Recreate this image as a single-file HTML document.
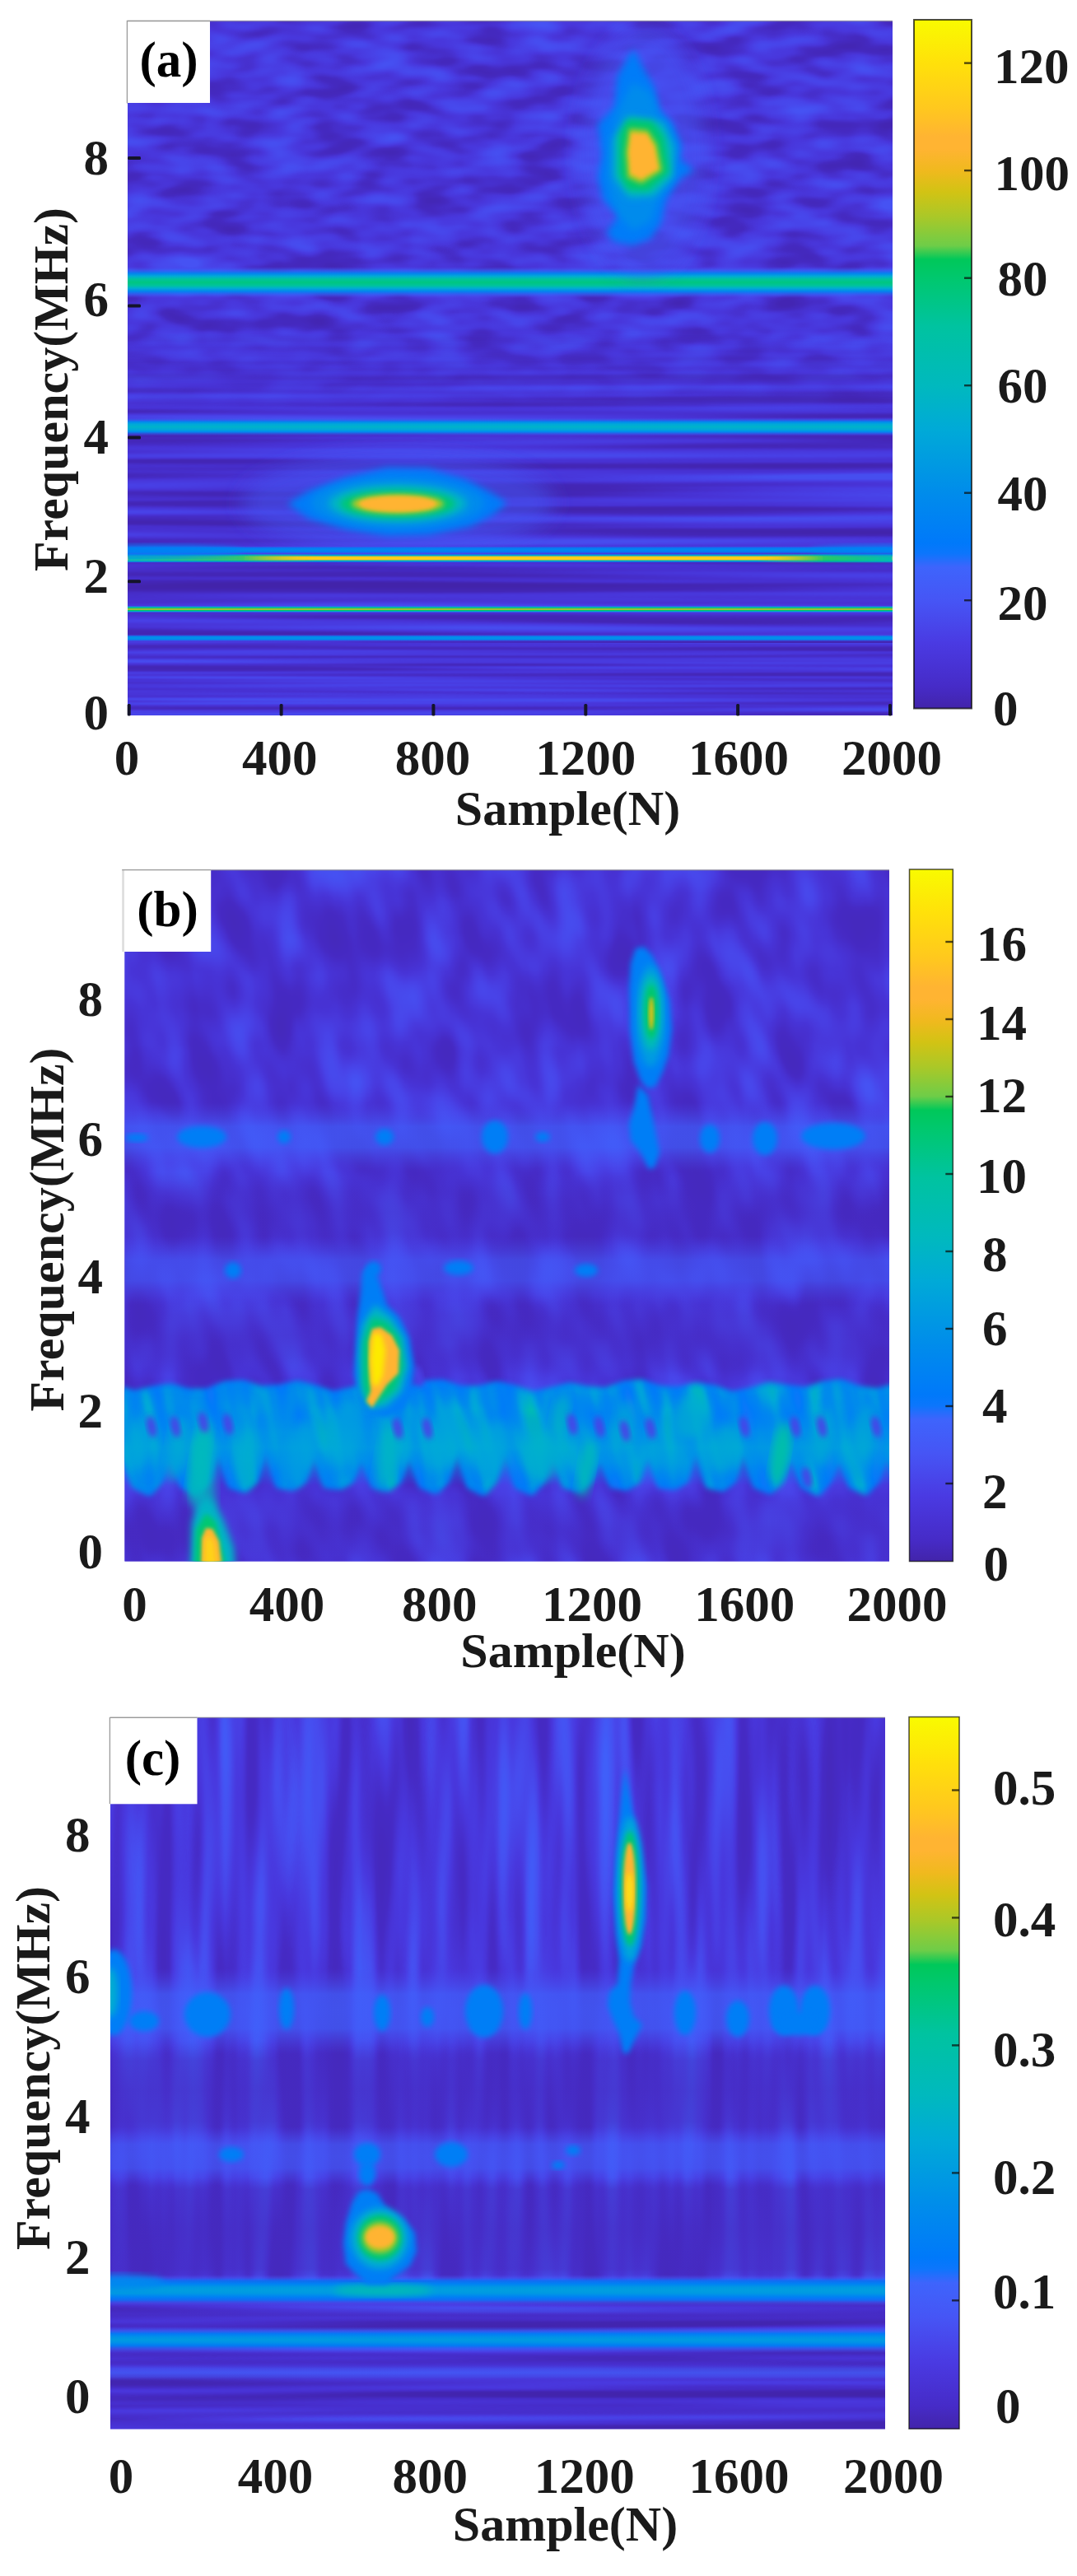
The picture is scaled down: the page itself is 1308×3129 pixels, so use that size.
<!DOCTYPE html>
<html lang="en">
<head>
<meta charset="utf-8">
<title>Time-frequency spectrograms (a)(b)(c)</title>
<style>
html,body{margin:0;padding:0;background:#fff;}
body{width:1308px;height:3129px;overflow:hidden;}
svg{display:block;}
text{font-family:"Liberation Serif","Times New Roman",serif;font-weight:bold;fill:#1a1a1a;}
</style>
</head>
<body>
<svg width="1308" height="3129" viewBox="0 0 1308 3129">
<defs>
<filter id="bl1" x="-20%" y="-20%" width="140%" height="140%"><feGaussianBlur stdDeviation="1"/></filter>
<filter id="bl2" x="-20%" y="-20%" width="140%" height="140%"><feGaussianBlur stdDeviation="2"/></filter>
<filter id="bl3" x="-20%" y="-20%" width="140%" height="140%"><feGaussianBlur stdDeviation="3"/></filter>
<filter id="bl4" x="-20%" y="-20%" width="140%" height="140%"><feGaussianBlur stdDeviation="4"/></filter>
<filter id="bl5" x="-20%" y="-20%" width="140%" height="140%"><feGaussianBlur stdDeviation="5"/></filter>
<filter id="bl6" x="-20%" y="-20%" width="140%" height="140%"><feGaussianBlur stdDeviation="6"/></filter>
<filter id="bl8" x="-20%" y="-20%" width="140%" height="140%"><feGaussianBlur stdDeviation="8"/></filter>
<filter id="bl10" x="-20%" y="-20%" width="140%" height="140%"><feGaussianBlur stdDeviation="10"/></filter>
<filter id="bl12" x="-20%" y="-20%" width="140%" height="140%"><feGaussianBlur stdDeviation="12"/></filter>
<clipPath id="clipA"><rect x="155.0" y="25.5" width="929.0" height="843.5"/></clipPath>
<filter id="nA1" x="0" y="0" width="100%" height="100%" color-interpolation-filters="sRGB"><feTurbulence type="fractalNoise" baseFrequency="0.016 0.042" numOctaves="2" seed="7"/><feColorMatrix type="matrix" values="1 0 0 0 0 1 0 0 0 0 1 0 0 0 0 0 0 0 0 1"/><feComponentTransfer><feFuncR type="table" tableValues="0.263 0.263 0.271 0.286 0.282 0.275 0.275"/><feFuncG type="table" tableValues="0.149 0.149 0.165 0.216 0.271 0.322 0.322"/><feFuncB type="table" tableValues="0.702 0.702 0.757 0.863 0.918 0.953 0.953"/></feComponentTransfer></filter>
<filter id="nA3" x="0" y="0" width="100%" height="100%" color-interpolation-filters="sRGB"><feTurbulence type="fractalNoise" baseFrequency="0.0012 0.13" numOctaves="2" seed="21"/><feColorMatrix type="matrix" values="1 0 0 0 0 1 0 0 0 0 1 0 0 0 0 0 0 0 0 1"/><feComponentTransfer><feFuncR type="table" tableValues="0.263 0.263 0.271 0.282 0.286 0.275 0.275"/><feFuncG type="table" tableValues="0.149 0.149 0.161 0.200 0.255 0.322 0.322"/><feFuncB type="table" tableValues="0.702 0.702 0.741 0.839 0.906 0.953 0.953"/></feComponentTransfer></filter>
<filter id="nA2" x="0" y="0" width="100%" height="100%" color-interpolation-filters="sRGB"><feTurbulence type="fractalNoise" baseFrequency="0.0012 0.075" numOctaves="2" seed="11"/><feColorMatrix type="matrix" values="1 0 0 0 0 1 0 0 0 0 1 0 0 0 0 0 0 0 0 1"/><feComponentTransfer><feFuncR type="table" tableValues="0.259 0.259 0.267 0.282 0.286 0.278 0.278"/><feFuncG type="table" tableValues="0.141 0.141 0.153 0.196 0.247 0.306 0.306"/><feFuncB type="table" tableValues="0.667 0.667 0.722 0.831 0.898 0.941 0.941"/></feComponentTransfer></filter>
<linearGradient id="mAg" gradientUnits="userSpaceOnUse" x1="0" y1="400" x2="0" y2="500"><stop offset="0" stop-color="#000"/><stop offset="1" stop-color="#fff"/></linearGradient>
<mask id="mA" maskUnits="userSpaceOnUse" x="155.0" y="390" width="929.0" height="479.0"><rect x="155.0" y="390" width="929.0" height="479.0" fill="url(#mAg)"/></mask>
<linearGradient id="g1" x1="0" y1="0" x2="0" y2="1"><stop offset="0.0" stop-color="#4652f3" stop-opacity="0"/><stop offset="0.1" stop-color="#3268fc" stop-opacity="0.55"/><stop offset="0.21" stop-color="#0086f0" stop-opacity="0.95"/><stop offset="0.31" stop-color="#00add1" stop-opacity="1"/><stop offset="0.4" stop-color="#00c39c" stop-opacity="1"/><stop offset="0.5" stop-color="#00c680" stop-opacity="1"/><stop offset="0.5" stop-color="#00c680" stop-opacity="1"/><stop offset="0.6" stop-color="#00c39c" stop-opacity="1"/><stop offset="0.69" stop-color="#00add1" stop-opacity="1"/><stop offset="0.79" stop-color="#0086f0" stop-opacity="0.95"/><stop offset="0.9" stop-color="#3268fc" stop-opacity="0.55"/><stop offset="1.0" stop-color="#4652f3" stop-opacity="0"/></linearGradient>
<linearGradient id="g2" x1="0" y1="0" x2="0" y2="1"><stop offset="0.0" stop-color="#4652f3" stop-opacity="0"/><stop offset="0.225" stop-color="#0089ee" stop-opacity="1"/><stop offset="0.35" stop-color="#00a8d8" stop-opacity="1"/><stop offset="0.5" stop-color="#00b2ca" stop-opacity="1"/><stop offset="0.5" stop-color="#00b2ca" stop-opacity="1"/><stop offset="0.65" stop-color="#00a8d8" stop-opacity="1"/><stop offset="0.775" stop-color="#0089ee" stop-opacity="1"/><stop offset="1.0" stop-color="#4652f3" stop-opacity="0"/></linearGradient>
<linearGradient id="g3" x1="0" y1="0" x2="0" y2="1"><stop offset="0.0" stop-color="#4652f3" stop-opacity="0"/><stop offset="0.25" stop-color="#007ef6" stop-opacity="0.9"/><stop offset="0.5" stop-color="#0089ee" stop-opacity="1"/><stop offset="0.5" stop-color="#0089ee" stop-opacity="1"/><stop offset="0.75" stop-color="#007ef6" stop-opacity="0.9"/><stop offset="1.0" stop-color="#4652f3" stop-opacity="0"/></linearGradient>
<linearGradient id="g4" x1="0" y1="0" x2="0" y2="1"><stop offset="0.0" stop-color="#4652f3" stop-opacity="0"/><stop offset="0.1" stop-color="#0089ee" stop-opacity="0.8"/><stop offset="0.225" stop-color="#00bdb3" stop-opacity="1"/><stop offset="0.35" stop-color="#ffbe28" stop-opacity="1"/><stop offset="0.5" stop-color="#ffda0f" stop-opacity="1"/><stop offset="0.5" stop-color="#ffda0f" stop-opacity="1"/><stop offset="0.65" stop-color="#ffbe28" stop-opacity="1"/><stop offset="0.775" stop-color="#00bdb3" stop-opacity="1"/><stop offset="0.9" stop-color="#0089ee" stop-opacity="0.8"/><stop offset="1.0" stop-color="#4652f3" stop-opacity="0"/></linearGradient>
<linearGradient id="fadeL" x1="0" y1="0" x2="1" y2="0"><stop offset="0" stop-color="#00b4c6" stop-opacity="1"/><stop offset="0.6" stop-color="#00c680" stop-opacity="0.8"/><stop offset="1" stop-color="#d2c314" stop-opacity="0"/></linearGradient>
<linearGradient id="fadeR" x1="0" y1="0" x2="1" y2="0"><stop offset="0" stop-color="#d2c314" stop-opacity="0"/><stop offset="0.5" stop-color="#00c872" stop-opacity="0.85"/><stop offset="1" stop-color="#00bdb3" stop-opacity="1"/></linearGradient>
<linearGradient id="g5" x1="0" y1="0" x2="0" y2="1"><stop offset="0.0" stop-color="#4652f3" stop-opacity="0"/><stop offset="0.2" stop-color="#00a8d8" stop-opacity="1"/><stop offset="0.35" stop-color="#00c85b" stop-opacity="1"/><stop offset="0.5" stop-color="#f9b62a" stop-opacity="1"/><stop offset="0.5" stop-color="#f9b62a" stop-opacity="1"/><stop offset="0.65" stop-color="#00c85b" stop-opacity="1"/><stop offset="0.8" stop-color="#00a8d8" stop-opacity="1"/><stop offset="1.0" stop-color="#4652f3" stop-opacity="0"/></linearGradient>
<linearGradient id="g6" x1="0" y1="0" x2="0" y2="1"><stop offset="0.0" stop-color="#4652f3" stop-opacity="0"/><stop offset="0.3" stop-color="#0089ee" stop-opacity="1"/><stop offset="0.5" stop-color="#0092e7" stop-opacity="1"/><stop offset="0.5" stop-color="#0092e7" stop-opacity="1"/><stop offset="0.7" stop-color="#0089ee" stop-opacity="1"/><stop offset="1.0" stop-color="#4652f3" stop-opacity="0"/></linearGradient>
<linearGradient id="cbA" x1="0" y1="0" x2="0" y2="1"><stop offset="0.0000" stop-color="#f9fb00"/><stop offset="0.0625" stop-color="#ffe10a"/><stop offset="0.1280" stop-color="#ffc81e"/><stop offset="0.1700" stop-color="#ffb432"/><stop offset="0.1875" stop-color="#ffb432"/><stop offset="0.2190" stop-color="#f0b91e"/><stop offset="0.2500" stop-color="#d2c314"/><stop offset="0.2860" stop-color="#aac828"/><stop offset="0.3280" stop-color="#6ecd48"/><stop offset="0.3480" stop-color="#00c85a"/><stop offset="0.3750" stop-color="#00c86e"/><stop offset="0.4450" stop-color="#00c3a0"/><stop offset="0.5310" stop-color="#00b9be"/><stop offset="0.5940" stop-color="#00aad7"/><stop offset="0.6875" stop-color="#008ceb"/><stop offset="0.7600" stop-color="#0079fa"/><stop offset="0.7750" stop-color="#0c76fc"/><stop offset="0.7950" stop-color="#3e64fc"/><stop offset="0.8440" stop-color="#4655f5"/><stop offset="0.9060" stop-color="#4a3ae2"/><stop offset="0.9690" stop-color="#462bc7"/><stop offset="1.0000" stop-color="#4224aa"/></linearGradient>
<clipPath id="clipB"><rect x="151.4" y="1056.7" width="928.6" height="839.9"/></clipPath>
<filter id="nB1" x="0" y="0" width="100%" height="100%" color-interpolation-filters="sRGB"><feTurbulence type="fractalNoise" baseFrequency="0.021 0.011" numOctaves="2" seed="5"/><feColorMatrix type="matrix" values="1 0 0 0 0 1 0 0 0 0 1 0 0 0 0 0 0 0 0 1"/><feComponentTransfer><feFuncR type="table" tableValues="0.271 0.271 0.275 0.282 0.286 0.275 0.275"/><feFuncG type="table" tableValues="0.161 0.161 0.165 0.204 0.263 0.322 0.322"/><feFuncB type="table" tableValues="0.741 0.741 0.769 0.843 0.910 0.953 0.953"/></feComponentTransfer></filter>
<linearGradient id="g7" x1="0" y1="0" x2="0" y2="1"><stop offset="0.0" stop-color="#4529bd" stop-opacity="0"/><stop offset="0.25" stop-color="#4529bd" stop-opacity="0.3"/><stop offset="0.5" stop-color="#4529bd" stop-opacity="0.4"/><stop offset="0.5" stop-color="#4529bd" stop-opacity="0.4"/><stop offset="0.75" stop-color="#4529bd" stop-opacity="0.3"/><stop offset="1.0" stop-color="#4529bd" stop-opacity="0"/></linearGradient>
<linearGradient id="g8" x1="0" y1="0" x2="0" y2="1"><stop offset="0.0" stop-color="#4529bd" stop-opacity="0"/><stop offset="0.25" stop-color="#4529bd" stop-opacity="0.3"/><stop offset="0.5" stop-color="#4529bd" stop-opacity="0.4"/><stop offset="0.5" stop-color="#4529bd" stop-opacity="0.4"/><stop offset="0.75" stop-color="#4529bd" stop-opacity="0.3"/><stop offset="1.0" stop-color="#4529bd" stop-opacity="0"/></linearGradient>
<linearGradient id="g9" x1="0" y1="0" x2="0" y2="1"><stop offset="0.0" stop-color="#4529bd" stop-opacity="0"/><stop offset="0.25" stop-color="#4529bd" stop-opacity="0.22"/><stop offset="0.5" stop-color="#4529bd" stop-opacity="0.3"/><stop offset="0.5" stop-color="#4529bd" stop-opacity="0.3"/><stop offset="0.75" stop-color="#4529bd" stop-opacity="0.22"/><stop offset="1.0" stop-color="#4529bd" stop-opacity="0"/></linearGradient>
<linearGradient id="g10" x1="0" y1="0" x2="0" y2="1"><stop offset="0.0" stop-color="#4845ea" stop-opacity="0"/><stop offset="0.15" stop-color="#4652f3" stop-opacity="0.3"/><stop offset="0.35" stop-color="#405ffa" stop-opacity="0.68"/><stop offset="0.5" stop-color="#405ffa" stop-opacity="0.7"/><stop offset="0.5" stop-color="#405ffa" stop-opacity="0.7"/><stop offset="0.65" stop-color="#405ffa" stop-opacity="0.68"/><stop offset="0.85" stop-color="#4652f3" stop-opacity="0.3"/><stop offset="1.0" stop-color="#4845ea" stop-opacity="0"/></linearGradient>
<linearGradient id="g11" x1="0" y1="0" x2="0" y2="1"><stop offset="0.0" stop-color="#4845ea" stop-opacity="0"/><stop offset="0.15" stop-color="#4652f3" stop-opacity="0.25"/><stop offset="0.35" stop-color="#425cf8" stop-opacity="0.58"/><stop offset="0.5" stop-color="#425cf8" stop-opacity="0.6"/><stop offset="0.5" stop-color="#425cf8" stop-opacity="0.6"/><stop offset="0.65" stop-color="#425cf8" stop-opacity="0.58"/><stop offset="0.85" stop-color="#4652f3" stop-opacity="0.25"/><stop offset="1.0" stop-color="#4845ea" stop-opacity="0"/></linearGradient>
<filter id="nB2" x="0" y="0" width="100%" height="100%" color-interpolation-filters="sRGB"><feTurbulence type="fractalNoise" baseFrequency="0.034 0.01" numOctaves="2" seed="17"/><feColorMatrix type="matrix" values="1 0 0 0 0 1 0 0 0 0 1 0 0 0 0 0 0 0 0 1"/><feComponentTransfer><feFuncR type="table" tableValues="0.094 0.094 0.000 0.000 0.000 0.000 0.000"/><feFuncG type="table" tableValues="0.447 0.447 0.486 0.545 0.659 0.741 0.741"/><feFuncB type="table" tableValues="0.988 0.988 0.973 0.925 0.847 0.702 0.702"/></feComponentTransfer></filter>
<mask id="mB" maskUnits="userSpaceOnUse" x="91.4" y="1640" width="1048.6" height="220"><path d="M141.4 1684.0 L163.4 1690.7 L185.4 1685.5 L207.4 1682.3 L229.4 1688.5 L251.4 1688.4 L273.4 1679.2 L295.4 1678.3 L317.4 1685.3 L339.4 1683.7 L361.4 1678.4 L383.4 1684.2 L405.4 1691.4 L427.4 1686.5 L449.4 1681.7 L471.4 1687.0 L493.4 1687.9 L515.4 1679.0 L537.4 1677.4 L559.4 1685.1 L581.4 1685.0 L603.4 1679.6 L625.4 1684.3 L647.4 1691.8 L669.4 1687.1 L691.4 1681.0 L713.4 1685.4 L735.4 1687.3 L757.4 1679.0 L779.4 1676.9 L801.4 1685.1 L823.4 1686.5 L845.4 1680.8 L867.4 1684.3 L889.4 1691.7 L911.4 1687.5 L933.4 1680.2 L955.4 1683.7 L977.4 1686.7 L999.4 1679.4 L1021.4 1676.8 L1043.4 1685.2 L1065.4 1688.0 L1087.4 1682.1 L1109.4 1684.0 L1110.0 1812.0 L1090.0 1806.0 L1077.0 1768.0 L1066.0 1800.0 L1052.0 1815.1 L1032.0 1806.0 L1019.0 1772.8 L1008.0 1800.0 L994.0 1815.9 L974.0 1806.0 L961.0 1770.6 L950.0 1800.0 L936.0 1813.7 L916.0 1806.0 L903.0 1764.6 L892.0 1800.0 L878.0 1810.2 L858.0 1806.0 L845.0 1763.6 L834.0 1800.0 L820.0 1808.1 L800.0 1806.0 L787.0 1769.1 L776.0 1800.0 L762.0 1808.9 L742.0 1806.0 L729.0 1773.0 L718.0 1800.0 L704.0 1812.1 L684.0 1806.0 L671.0 1769.6 L660.0 1800.0 L646.0 1815.2 L626.0 1806.0 L613.0 1763.9 L602.0 1800.0 L588.0 1815.9 L568.0 1806.0 L555.0 1764.2 L544.0 1800.0 L530.0 1813.6 L510.0 1806.0 L497.0 1770.1 L486.0 1800.0 L472.0 1810.2 L452.0 1806.0 L439.0 1772.9 L428.0 1800.0 L414.0 1808.1 L394.0 1806.0 L381.0 1768.5 L370.0 1800.0 L356.0 1809.0 L336.0 1806.0 L323.0 1763.4 L312.0 1800.0 L298.0 1812.1 L278.0 1806.0 L265.0 1765.0 L254.0 1800.0 L240.0 1815.2 L220.0 1806.0 L207.0 1771.0 L196.0 1800.0 L182.0 1815.9 L162.0 1806.0 L149.0 1772.6 L138.0 1800.0 L124.0 1813.6 L104.0 1806.0 L91.0 1767.5 L80.0 1800.0Z" fill="#fff" filter="url(#bl4)"/></mask>
<linearGradient id="g12" x1="0" y1="0" x2="0" y2="1"><stop offset="0.0" stop-color="#007cf8" stop-opacity="0"/><stop offset="0.125" stop-color="#0086f0" stop-opacity="0.25"/><stop offset="0.3" stop-color="#009be1" stop-opacity="0.45"/><stop offset="0.5" stop-color="#00a8d8" stop-opacity="0.55"/><stop offset="0.5" stop-color="#00a8d8" stop-opacity="0.55"/><stop offset="0.7" stop-color="#009be1" stop-opacity="0.45"/><stop offset="0.875" stop-color="#0086f0" stop-opacity="0.25"/><stop offset="1.0" stop-color="#007cf8" stop-opacity="0"/></linearGradient>
<linearGradient id="cbB" x1="0" y1="0" x2="0" y2="1"><stop offset="0.0000" stop-color="#f9fb00"/><stop offset="0.0625" stop-color="#ffe10a"/><stop offset="0.1280" stop-color="#ffc81e"/><stop offset="0.1700" stop-color="#ffb432"/><stop offset="0.1875" stop-color="#ffb432"/><stop offset="0.2190" stop-color="#f0b91e"/><stop offset="0.2500" stop-color="#d2c314"/><stop offset="0.2860" stop-color="#aac828"/><stop offset="0.3280" stop-color="#6ecd48"/><stop offset="0.3480" stop-color="#00c85a"/><stop offset="0.3750" stop-color="#00c86e"/><stop offset="0.4450" stop-color="#00c3a0"/><stop offset="0.5310" stop-color="#00b9be"/><stop offset="0.5940" stop-color="#00aad7"/><stop offset="0.6875" stop-color="#008ceb"/><stop offset="0.7600" stop-color="#0079fa"/><stop offset="0.7750" stop-color="#0c76fc"/><stop offset="0.7950" stop-color="#3e64fc"/><stop offset="0.8440" stop-color="#4655f5"/><stop offset="0.9060" stop-color="#4a3ae2"/><stop offset="0.9690" stop-color="#462bc7"/><stop offset="1.0000" stop-color="#4224aa"/></linearGradient>
<clipPath id="clipC"><rect x="134.0" y="2086.3" width="941.0" height="864.2"/></clipPath>
<filter id="nC1" x="0" y="0" width="100%" height="100%" color-interpolation-filters="sRGB"><feTurbulence type="fractalNoise" baseFrequency="0.033 0.003" numOctaves="2" seed="9"/><feColorMatrix type="matrix" values="1 0 0 0 0 1 0 0 0 0 1 0 0 0 0 0 0 0 0 1"/><feComponentTransfer><feFuncR type="table" tableValues="0.271 0.271 0.275 0.286 0.278 0.251 0.251"/><feFuncG type="table" tableValues="0.161 0.161 0.169 0.220 0.306 0.373 0.373"/><feFuncB type="table" tableValues="0.741 0.741 0.776 0.871 0.941 0.980 0.980"/></feComponentTransfer></filter>
<filter id="nC2" x="0" y="0" width="100%" height="100%" color-interpolation-filters="sRGB"><feTurbulence type="fractalNoise" baseFrequency="0.0012 0.07" numOctaves="2" seed="4"/><feColorMatrix type="matrix" values="1 0 0 0 0 1 0 0 0 0 1 0 0 0 0 0 0 0 0 1"/><feComponentTransfer><feFuncR type="table" tableValues="0.259 0.259 0.263 0.278 0.290 0.278 0.278"/><feFuncG type="table" tableValues="0.141 0.141 0.149 0.180 0.224 0.298 0.298"/><feFuncB type="table" tableValues="0.667 0.667 0.702 0.800 0.878 0.937 0.937"/></feComponentTransfer></filter>
<linearGradient id="g13" x1="0" y1="0" x2="0" y2="1"><stop offset="0.0" stop-color="#4529bd" stop-opacity="0"/><stop offset="0.2" stop-color="#4529bd" stop-opacity="0.5"/><stop offset="0.5" stop-color="#4529bd" stop-opacity="0.6"/><stop offset="0.5" stop-color="#4529bd" stop-opacity="0.6"/><stop offset="0.8" stop-color="#4529bd" stop-opacity="0.5"/><stop offset="1.0" stop-color="#4529bd" stop-opacity="0"/></linearGradient>
<linearGradient id="g14" x1="0" y1="0" x2="0" y2="1"><stop offset="0.0" stop-color="#4529bd" stop-opacity="0"/><stop offset="0.125" stop-color="#4529bd" stop-opacity="0.55"/><stop offset="0.5" stop-color="#4529bd" stop-opacity="0.65"/><stop offset="0.5" stop-color="#4529bd" stop-opacity="0.65"/><stop offset="0.875" stop-color="#4529bd" stop-opacity="0.55"/><stop offset="1.0" stop-color="#4529bd" stop-opacity="0"/></linearGradient>
<linearGradient id="g15" x1="0" y1="0" x2="0" y2="1"><stop offset="0.0" stop-color="#4845ea" stop-opacity="0"/><stop offset="0.125" stop-color="#4652f3" stop-opacity="0.3"/><stop offset="0.3" stop-color="#405ffa" stop-opacity="0.72"/><stop offset="0.5" stop-color="#405ffa" stop-opacity="0.75"/><stop offset="0.5" stop-color="#405ffa" stop-opacity="0.75"/><stop offset="0.7" stop-color="#405ffa" stop-opacity="0.72"/><stop offset="0.875" stop-color="#4652f3" stop-opacity="0.3"/><stop offset="1.0" stop-color="#4845ea" stop-opacity="0"/></linearGradient>
<linearGradient id="g16" x1="0" y1="0" x2="0" y2="1"><stop offset="0.0" stop-color="#4845ea" stop-opacity="0"/><stop offset="0.125" stop-color="#4652f3" stop-opacity="0.3"/><stop offset="0.3" stop-color="#425cf8" stop-opacity="0.66"/><stop offset="0.5" stop-color="#425cf8" stop-opacity="0.7"/><stop offset="0.5" stop-color="#425cf8" stop-opacity="0.7"/><stop offset="0.7" stop-color="#425cf8" stop-opacity="0.66"/><stop offset="0.875" stop-color="#4652f3" stop-opacity="0.3"/><stop offset="1.0" stop-color="#4845ea" stop-opacity="0"/></linearGradient>
<linearGradient id="g17" x1="0" y1="0" x2="0" y2="1"><stop offset="0.0" stop-color="#4652f3" stop-opacity="0"/><stop offset="0.09" stop-color="#405ffa" stop-opacity="0.4"/><stop offset="0.19" stop-color="#0877fb" stop-opacity="0.85"/><stop offset="0.29" stop-color="#0081f4" stop-opacity="1"/><stop offset="0.4" stop-color="#0098e3" stop-opacity="1"/><stop offset="0.5" stop-color="#009edf" stop-opacity="1"/><stop offset="0.5" stop-color="#009edf" stop-opacity="1"/><stop offset="0.6" stop-color="#0098e3" stop-opacity="1"/><stop offset="0.71" stop-color="#0081f4" stop-opacity="1"/><stop offset="0.81" stop-color="#0877fb" stop-opacity="0.85"/><stop offset="0.91" stop-color="#405ffa" stop-opacity="0.4"/><stop offset="1.0" stop-color="#4652f3" stop-opacity="0"/></linearGradient>
<linearGradient id="g18" x1="0" y1="0" x2="0" y2="1"><stop offset="0.0" stop-color="#4652f3" stop-opacity="0"/><stop offset="0.15" stop-color="#3268fc" stop-opacity="0.6"/><stop offset="0.275" stop-color="#007ef6" stop-opacity="0.95"/><stop offset="0.4" stop-color="#0092e7" stop-opacity="1"/><stop offset="0.5" stop-color="#009be1" stop-opacity="1"/><stop offset="0.5" stop-color="#009be1" stop-opacity="1"/><stop offset="0.6" stop-color="#0092e7" stop-opacity="1"/><stop offset="0.725" stop-color="#007ef6" stop-opacity="0.95"/><stop offset="0.85" stop-color="#3268fc" stop-opacity="0.6"/><stop offset="1.0" stop-color="#4652f3" stop-opacity="0"/></linearGradient>
<linearGradient id="g19" x1="0" y1="0" x2="0" y2="1"><stop offset="0.0" stop-color="#4845ea" stop-opacity="0"/><stop offset="0.25" stop-color="#4556f6" stop-opacity="0.6"/><stop offset="0.5" stop-color="#425cf8" stop-opacity="0.8"/><stop offset="0.5" stop-color="#425cf8" stop-opacity="0.8"/><stop offset="0.75" stop-color="#4556f6" stop-opacity="0.6"/><stop offset="1.0" stop-color="#4845ea" stop-opacity="0"/></linearGradient>
<linearGradient id="g20" x1="0" y1="0" x2="0" y2="1"><stop offset="0.0" stop-color="#4529bd" stop-opacity="0"/><stop offset="0.5" stop-color="#4529bd" stop-opacity="0.5"/><stop offset="0.5" stop-color="#4529bd" stop-opacity="0.5"/><stop offset="1.0" stop-color="#4529bd" stop-opacity="0"/></linearGradient>
<linearGradient id="cbC" x1="0" y1="0" x2="0" y2="1"><stop offset="0.0000" stop-color="#f9fb00"/><stop offset="0.0625" stop-color="#ffe10a"/><stop offset="0.1280" stop-color="#ffc81e"/><stop offset="0.1700" stop-color="#ffb432"/><stop offset="0.1875" stop-color="#ffb432"/><stop offset="0.2190" stop-color="#f0b91e"/><stop offset="0.2500" stop-color="#d2c314"/><stop offset="0.2860" stop-color="#aac828"/><stop offset="0.3280" stop-color="#6ecd48"/><stop offset="0.3480" stop-color="#00c85a"/><stop offset="0.3750" stop-color="#00c86e"/><stop offset="0.4450" stop-color="#00c3a0"/><stop offset="0.5310" stop-color="#00b9be"/><stop offset="0.5940" stop-color="#00aad7"/><stop offset="0.6875" stop-color="#008ceb"/><stop offset="0.7600" stop-color="#0079fa"/><stop offset="0.7750" stop-color="#0c76fc"/><stop offset="0.7950" stop-color="#3e64fc"/><stop offset="0.8440" stop-color="#4655f5"/><stop offset="0.9060" stop-color="#4a3ae2"/><stop offset="0.9690" stop-color="#462bc7"/><stop offset="1.0000" stop-color="#4224aa"/></linearGradient>
</defs>
<rect width="1308" height="3129" fill="#fff"/>
<g clip-path="url(#clipA)">
<rect x="155.0" y="25.5" width="929.0" height="843.5" fill="#4937dc"/>
<rect x="155.0" y="25.5" width="929.0" height="474.5" filter="url(#nA1)"/>
<g mask="url(#mA)"><rect x="155.0" y="390" width="929.0" height="479.0" filter="url(#nA2)"/></g>
<rect x="155.0" y="781" width="929.0" height="88.0" filter="url(#nA3)"/>
<rect x="155.0" y="324.0" width="929.0" height="38.0" fill="url(#g1)"/>
<rect x="155.0" y="507.5" width="929.0" height="22.0" fill="url(#g2)"/>
<ellipse cx="781.0" cy="185.0" rx="75.0" ry="150.0" fill="#4459f7" fill-opacity="0.55" filter="url(#bl12)"/>
<ellipse cx="483.0" cy="611.0" rx="190.0" ry="60.0" fill="#4459f7" fill-opacity="0.5" filter="url(#bl12)"/>
<path d="M769.8 59.7 L782.9 85.7 L794.0 104.0 L801.4 134.0 L816.0 149.0 L827.4 175.0 L825.6 193.4 L843.0 206.4 L825.6 217.6 L808.9 243.6 L803.0 271.0 L790.0 290.0 L768.0 298.0 L745.7 293.7 L736.4 282.6 L751.0 262.0 L732.7 243.6 L726.0 215.7 L730.9 187.9 L726.0 150.7 L745.7 130.3 L749.4 93.0 L764.0 67.0Z" fill="#007cf8" filter="url(#bl4)"/>
<path d="M768.0 100.0 L790.0 112.0 L800.0 140.0 L812.0 152.0 L822.0 178.0 L819.0 214.0 L800.0 240.0 L790.0 270.0 L768.0 280.0 L752.0 262.0 L742.0 238.0 L738.0 215.0 L741.0 170.0 L748.0 140.0 L758.0 120.0Z" fill="#008bec" filter="url(#bl5)"/>
<path d="M764.0 141.0 L805.0 149.0 L818.0 178.6 L816.0 215.7 L794.0 238.0 L764.0 240.0 L745.7 215.7 L745.7 169.0Z" fill="#00b7c2" filter="url(#bl5)"/>
<path d="M762.0 145.0 L792.0 147.0 L806.0 166.0 L813.0 209.0 L787.0 232.0 L763.0 231.0 L752.0 212.0 L752.0 163.0Z" fill="#00c86a" filter="url(#bl4)"/>
<path d="M764.0 156.0 L786.6 158.0 L797.7 175.0 L804.0 207.3 L779.0 223.0 L762.4 215.7 L760.0 185.0Z" fill="#b1c725" filter="url(#bl3)"/>
<path d="M767.0 162.0 L785.0 163.0 L794.0 178.0 L799.0 205.0 L779.0 217.0 L766.0 211.0 L764.0 185.0Z" fill="#ffb432" filter="url(#bl2)"/>
<path d="M349.0 612.0 L375.0 596.0 L420.0 580.0 L470.0 568.0 L520.0 569.0 L565.0 582.0 L596.0 598.0 L616.0 611.0 L598.0 626.0 L570.0 640.0 L520.0 650.0 L470.0 651.0 L420.0 643.0 L375.0 630.0Z" fill="#007cf8" filter="url(#bl4)"/>
<ellipse cx="483.0" cy="611.0" rx="105.0" ry="30.0" fill="#008bec" filter="url(#bl5)"/>
<ellipse cx="483.0" cy="611.5" rx="84.0" ry="23.0" fill="#00b4c6" filter="url(#bl5)"/>
<ellipse cx="483.0" cy="612.0" rx="70.0" ry="17.0" fill="#00c872" filter="url(#bl4)"/>
<ellipse cx="483.0" cy="612.0" rx="56.0" ry="12.0" fill="#b1c725" filter="url(#bl3)"/>
<ellipse cx="483.0" cy="612.0" rx="47.0" ry="9.5" fill="#ffb432" filter="url(#bl2)"/>
<rect x="155.0" y="663.0" width="929.0" height="10.0" fill="url(#g3)"/>
<rect x="155.0" y="672.5" width="929.0" height="11.0" fill="url(#g4)"/>
<rect x="155.0" y="674.5" width="230" height="7" fill="url(#fadeL)" filter="url(#bl1)"/>
<rect x="920" y="674.5" width="164.0" height="8" fill="url(#fadeR)" filter="url(#bl1)"/>
<ellipse cx="185.0" cy="669.0" rx="110.0" ry="7.0" fill="#0081f4" fill-opacity="0.9" filter="url(#bl3)"/>
<ellipse cx="1074.0" cy="668.0" rx="90.0" ry="6.0" fill="#0081f4" fill-opacity="0.8" filter="url(#bl3)"/>
<rect x="155.0" y="735.5" width="929.0" height="9.0" fill="url(#g5)"/>
<rect x="155.0" y="770.5" width="929.0" height="9.0" fill="url(#g6)"/>
</g>
<rect x="155.0" y="24.8" width="929.0" height="1.5" fill="#8a8a8a" fill-opacity="0.6"/>
<rect x="155.0" y="25.5" width="100" height="99.5" fill="#fff"/>
<path d="M154.4 125.5V25.5H255.0" fill="none" stroke="#9a9a9a" stroke-width="1.3"/>
<text x="205.0" y="93.0" font-size="61" text-anchor="middle" style="fill:#000">(a)</text>
<rect x="155.0" y="190.0" width="16" height="4" rx="1.5" fill="#14142a"/>
<rect x="155.0" y="369.5" width="16" height="4" rx="1.5" fill="#14142a"/>
<rect x="155.0" y="529.6" width="16" height="4" rx="1.5" fill="#14142a"/>
<rect x="155.0" y="704.3" width="16" height="4" rx="1.5" fill="#14142a"/>
<rect x="154.7" y="855.0" width="4" height="14.5" rx="1.5" fill="#14142a"/>
<rect x="339.6" y="855.0" width="4" height="14.5" rx="1.5" fill="#14142a"/>
<rect x="524.4" y="855.0" width="4" height="14.5" rx="1.5" fill="#14142a"/>
<rect x="709.3" y="855.0" width="4" height="14.5" rx="1.5" fill="#14142a"/>
<rect x="894.1" y="855.0" width="4" height="14.5" rx="1.5" fill="#14142a"/>
<rect x="1079.0" y="855.0" width="4" height="14.5" rx="1.5" fill="#14142a"/>
<text x="132.0" y="212.2" font-size="61" text-anchor="end" >8</text>
<text x="132.0" y="383.8" font-size="61" text-anchor="end" >6</text>
<text x="132.0" y="550.9" font-size="61" text-anchor="end" >4</text>
<text x="132.0" y="720.3" font-size="61" text-anchor="end" >2</text>
<text x="132.0" y="886.0" font-size="61" text-anchor="end" >0</text>
<text x="153.9" y="941.1" font-size="61" text-anchor="middle" >0</text>
<text x="339.7" y="941.1" font-size="61" text-anchor="middle" >400</text>
<text x="525.5" y="941.1" font-size="61" text-anchor="middle" >800</text>
<text x="711.3" y="941.1" font-size="61" text-anchor="middle" >1200</text>
<text x="897.1" y="941.1" font-size="61" text-anchor="middle" >1600</text>
<text x="1082.9" y="941.1" font-size="61" text-anchor="middle" >2000</text>
<text x="689.5" y="1001.5" font-size="60" text-anchor="middle" >Sample(N)</text>
<text transform="translate(82.0 473.0) rotate(-90)" font-size="60" text-anchor="middle">Frequency(MHz)</text>
<rect x="1110" y="24" width="70.0" height="836.5" fill="url(#cbA)" stroke="#0c0c08" stroke-opacity="0.72" stroke-width="2"/>
<rect x="1171.0" y="75.4" width="9" height="2.4" fill="#0c0c08" fill-opacity="0.72"/>
<rect x="1171.0" y="205.9" width="9" height="2.4" fill="#0c0c08" fill-opacity="0.72"/>
<rect x="1171.0" y="336.5" width="9" height="2.4" fill="#0c0c08" fill-opacity="0.72"/>
<rect x="1171.0" y="467.0" width="9" height="2.4" fill="#0c0c08" fill-opacity="0.72"/>
<rect x="1171.0" y="597.5" width="9" height="2.4" fill="#0c0c08" fill-opacity="0.72"/>
<rect x="1171.0" y="728.0" width="9" height="2.4" fill="#0c0c08" fill-opacity="0.72"/>
<text x="1207.0" y="101.2" font-size="61" text-anchor="start" >120</text>
<text x="1207.5" y="230.8" font-size="61" text-anchor="start" >100</text>
<text x="1211.5" y="359.2" font-size="61" text-anchor="start" >80</text>
<text x="1211.5" y="488.6" font-size="61" text-anchor="start" >60</text>
<text x="1211.5" y="620.1" font-size="61" text-anchor="start" >40</text>
<text x="1211.5" y="752.8" font-size="61" text-anchor="start" >20</text>
<text x="1206.0" y="880.6" font-size="61" text-anchor="start" >0</text>
<g clip-path="url(#clipB)">
<rect x="151.4" y="1056.7" width="928.6" height="839.9" fill="#4834d8"/>
<g transform="translate(0 1056.7) skewX(9) translate(0 -1056.7)"><rect x="-148.6" y="1056.7" width="1278.6" height="839.9" filter="url(#nB1)"/></g>
<rect x="151.4" y="1423.0" width="928.6" height="100.0" fill="url(#g7)"/>
<rect x="151.4" y="1574.0" width="928.6" height="96.0" fill="url(#g8)"/>
<rect x="151.4" y="1815.0" width="928.6" height="90.0" fill="url(#g9)"/>
<rect x="151.4" y="1339.0" width="928.6" height="84.0" fill="url(#g10)"/>
<rect x="151.4" y="1501.0" width="928.6" height="84.0" fill="url(#g11)"/>
<ellipse cx="245.0" cy="1381.0" rx="30.0" ry="13.0" fill="#007ef6" filter="url(#bl3)"/>
<ellipse cx="345.0" cy="1381.0" rx="8.0" ry="8.0" fill="#007ef6" filter="url(#bl3)"/>
<ellipse cx="467.0" cy="1381.0" rx="11.0" ry="10.0" fill="#007ef6" filter="url(#bl3)"/>
<ellipse cx="601.0" cy="1381.0" rx="16.0" ry="20.0" fill="#007ef6" filter="url(#bl3)"/>
<ellipse cx="659.0" cy="1381.0" rx="9.0" ry="6.0" fill="#007ef6" filter="url(#bl3)"/>
<ellipse cx="862.0" cy="1383.0" rx="12.0" ry="17.0" fill="#007ef6" filter="url(#bl3)"/>
<ellipse cx="929.0" cy="1383.0" rx="15.0" ry="20.0" fill="#007ef6" filter="url(#bl3)"/>
<ellipse cx="1012.0" cy="1380.0" rx="39.0" ry="16.0" fill="#007ef6" filter="url(#bl3)"/>
<ellipse cx="166.0" cy="1382.0" rx="14.0" ry="5.0" fill="#007ef6" filter="url(#bl3)"/>
<ellipse cx="283.0" cy="1543.0" rx="10.0" ry="10.0" fill="#007ef6" filter="url(#bl3)"/>
<ellipse cx="557.0" cy="1540.0" rx="18.0" ry="9.0" fill="#007ef6" filter="url(#bl3)"/>
<ellipse cx="712.0" cy="1543.0" rx="14.0" ry="8.0" fill="#007ef6" filter="url(#bl3)"/>
<ellipse cx="454.0" cy="1541.0" rx="9.0" ry="9.0" fill="#007ef6" filter="url(#bl3)"/>
<path d="M766.0 1170.0 L772.0 1152.0 L782.0 1150.0 L792.0 1160.0 L803.0 1185.0 L813.0 1215.0 L816.0 1250.0 L812.0 1282.0 L805.0 1302.0 L796.0 1320.0 L786.0 1322.0 L778.0 1312.0 L770.0 1290.0 L765.0 1250.0 L764.0 1200.0Z" fill="#007ef6" filter="url(#bl3)"/>
<path d="M775.0 1318.0 L787.0 1330.0 L795.0 1370.0 L801.0 1400.0 L795.0 1418.0 L788.0 1420.0 L778.0 1400.0 L766.0 1385.0 L764.0 1365.0 L770.0 1345.0Z" fill="#007ef6" filter="url(#bl3)"/>
<ellipse cx="790.0" cy="1234.0" rx="17.0" ry="62.0" fill="#009be1" filter="url(#bl4)"/>
<ellipse cx="790.5" cy="1230.0" rx="12.5" ry="46.0" fill="#00bdb3" filter="url(#bl4)"/>
<ellipse cx="791.0" cy="1229.0" rx="8.0" ry="33.0" fill="#00c86a" filter="url(#bl3)"/>
<ellipse cx="791.0" cy="1231.0" rx="3.2" ry="20.0" fill="#dcc017" filter="url(#bl2)"/>
<path d="M141.4 1684.0 L163.4 1690.7 L185.4 1685.5 L207.4 1682.3 L229.4 1688.5 L251.4 1688.4 L273.4 1679.2 L295.4 1678.3 L317.4 1685.3 L339.4 1683.7 L361.4 1678.4 L383.4 1684.2 L405.4 1691.4 L427.4 1686.5 L449.4 1681.7 L471.4 1687.0 L493.4 1687.9 L515.4 1679.0 L537.4 1677.4 L559.4 1685.1 L581.4 1685.0 L603.4 1679.6 L625.4 1684.3 L647.4 1691.8 L669.4 1687.1 L691.4 1681.0 L713.4 1685.4 L735.4 1687.3 L757.4 1679.0 L779.4 1676.9 L801.4 1685.1 L823.4 1686.5 L845.4 1680.8 L867.4 1684.3 L889.4 1691.7 L911.4 1687.5 L933.4 1680.2 L955.4 1683.7 L977.4 1686.7 L999.4 1679.4 L1021.4 1676.8 L1043.4 1685.2 L1065.4 1688.0 L1087.4 1682.1 L1109.4 1684.0 L1110.0 1812.0 L1090.0 1806.0 L1077.0 1768.0 L1066.0 1800.0 L1052.0 1815.1 L1032.0 1806.0 L1019.0 1772.8 L1008.0 1800.0 L994.0 1815.9 L974.0 1806.0 L961.0 1770.6 L950.0 1800.0 L936.0 1813.7 L916.0 1806.0 L903.0 1764.6 L892.0 1800.0 L878.0 1810.2 L858.0 1806.0 L845.0 1763.6 L834.0 1800.0 L820.0 1808.1 L800.0 1806.0 L787.0 1769.1 L776.0 1800.0 L762.0 1808.9 L742.0 1806.0 L729.0 1773.0 L718.0 1800.0 L704.0 1812.1 L684.0 1806.0 L671.0 1769.6 L660.0 1800.0 L646.0 1815.2 L626.0 1806.0 L613.0 1763.9 L602.0 1800.0 L588.0 1815.9 L568.0 1806.0 L555.0 1764.2 L544.0 1800.0 L530.0 1813.6 L510.0 1806.0 L497.0 1770.1 L486.0 1800.0 L472.0 1810.2 L452.0 1806.0 L439.0 1772.9 L428.0 1800.0 L414.0 1808.1 L394.0 1806.0 L381.0 1768.5 L370.0 1800.0 L356.0 1809.0 L336.0 1806.0 L323.0 1763.4 L312.0 1800.0 L298.0 1812.1 L278.0 1806.0 L265.0 1765.0 L254.0 1800.0 L240.0 1815.2 L220.0 1806.0 L207.0 1771.0 L196.0 1800.0 L182.0 1815.9 L162.0 1806.0 L149.0 1772.6 L138.0 1800.0 L124.0 1813.6 L104.0 1806.0 L91.0 1767.5 L80.0 1800.0Z" fill="#007cf8" filter="url(#bl3)"/>
<g mask="url(#mB)"><g transform="translate(0 1640) skewX(9) translate(0 -1640)"><rect x="71.4" y="1640" width="1088.6" height="220" filter="url(#nB2)"/></g></g>
<rect x="151.4" y="1712.0" width="928.6" height="92.0" fill="url(#g12)"/>
<ellipse cx="242.0" cy="1775.0" rx="10.0" ry="50.0" fill="#00baba" fill-opacity="0.9" transform="rotate(10 242.0 1775.0)" filter="url(#bl6)"/>
<ellipse cx="215.0" cy="1760.0" rx="12.0" ry="40.0" fill="#00add1" fill-opacity="0.7" transform="rotate(10 215.0 1760.0)" filter="url(#bl6)"/>
<ellipse cx="300.0" cy="1770.0" rx="14.0" ry="35.0" fill="#00add1" fill-opacity="0.7" transform="rotate(10 300.0 1770.0)" filter="url(#bl6)"/>
<ellipse cx="365.0" cy="1765.0" rx="16.0" ry="40.0" fill="#00a8d8" fill-opacity="0.6" transform="rotate(10 365.0 1765.0)" filter="url(#bl6)"/>
<ellipse cx="420.0" cy="1740.0" rx="20.0" ry="40.0" fill="#00a8d8" fill-opacity="0.6" transform="rotate(10 420.0 1740.0)" filter="url(#bl6)"/>
<ellipse cx="470.0" cy="1770.0" rx="12.0" ry="40.0" fill="#00b4c6" fill-opacity="0.8" transform="rotate(10 470.0 1770.0)" filter="url(#bl6)"/>
<ellipse cx="540.0" cy="1745.0" rx="20.0" ry="40.0" fill="#00a8d8" fill-opacity="0.6" transform="rotate(10 540.0 1745.0)" filter="url(#bl6)"/>
<ellipse cx="600.0" cy="1760.0" rx="18.0" ry="35.0" fill="#00a8d8" fill-opacity="0.6" transform="rotate(10 600.0 1760.0)" filter="url(#bl6)"/>
<ellipse cx="660.0" cy="1770.0" rx="22.0" ry="30.0" fill="#00b2ca" fill-opacity="0.7" transform="rotate(10 660.0 1770.0)" filter="url(#bl6)"/>
<ellipse cx="712.0" cy="1785.0" rx="9.0" ry="35.0" fill="#00bdb3" fill-opacity="0.8" transform="rotate(10 712.0 1785.0)" filter="url(#bl6)"/>
<ellipse cx="680.0" cy="1720.0" rx="10.0" ry="25.0" fill="#00b7c2" fill-opacity="0.7" transform="rotate(10 680.0 1720.0)" filter="url(#bl6)"/>
<ellipse cx="760.0" cy="1730.0" rx="14.0" ry="30.0" fill="#00add1" fill-opacity="0.6" transform="rotate(10 760.0 1730.0)" filter="url(#bl6)"/>
<ellipse cx="840.0" cy="1720.0" rx="20.0" ry="28.0" fill="#00b0cd" fill-opacity="0.7" transform="rotate(10 840.0 1720.0)" filter="url(#bl6)"/>
<ellipse cx="880.0" cy="1760.0" rx="16.0" ry="30.0" fill="#00add1" fill-opacity="0.6" transform="rotate(10 880.0 1760.0)" filter="url(#bl6)"/>
<ellipse cx="948.0" cy="1765.0" rx="10.0" ry="38.0" fill="#00c2a2" fill-opacity="0.85" transform="rotate(10 948.0 1765.0)" filter="url(#bl6)"/>
<ellipse cx="1000.0" cy="1745.0" rx="14.0" ry="35.0" fill="#00add1" fill-opacity="0.6" transform="rotate(10 1000.0 1745.0)" filter="url(#bl6)"/>
<ellipse cx="1050.0" cy="1740.0" rx="14.0" ry="35.0" fill="#00add1" fill-opacity="0.6" transform="rotate(10 1050.0 1740.0)" filter="url(#bl6)"/>
<ellipse cx="170.0" cy="1750.0" rx="12.0" ry="35.0" fill="#00a8d8" fill-opacity="0.6" transform="rotate(10 170.0 1750.0)" filter="url(#bl6)"/>
<ellipse cx="184.0" cy="1733.0" rx="5.5" ry="13.0" fill="#4941e7" fill-opacity="0.95" transform="rotate(-12 184.0 1733.0)" filter="url(#bl3)"/>
<ellipse cx="213.0" cy="1733.0" rx="5.5" ry="13.0" fill="#4941e7" fill-opacity="0.95" transform="rotate(-12 213.0 1733.0)" filter="url(#bl3)"/>
<ellipse cx="247.0" cy="1728.0" rx="5.5" ry="13.0" fill="#4941e7" fill-opacity="0.95" transform="rotate(-12 247.0 1728.0)" filter="url(#bl3)"/>
<ellipse cx="277.0" cy="1730.0" rx="5.5" ry="13.0" fill="#4941e7" fill-opacity="0.95" transform="rotate(-12 277.0 1730.0)" filter="url(#bl3)"/>
<ellipse cx="483.0" cy="1735.0" rx="5.5" ry="13.0" fill="#4941e7" fill-opacity="0.95" transform="rotate(-12 483.0 1735.0)" filter="url(#bl3)"/>
<ellipse cx="519.0" cy="1735.0" rx="5.5" ry="13.0" fill="#4941e7" fill-opacity="0.95" transform="rotate(-12 519.0 1735.0)" filter="url(#bl3)"/>
<ellipse cx="508.0" cy="1672.0" rx="5.5" ry="13.0" fill="#4941e7" fill-opacity="0.95" transform="rotate(-12 508.0 1672.0)" filter="url(#bl3)"/>
<ellipse cx="695.0" cy="1730.0" rx="5.5" ry="13.0" fill="#4941e7" fill-opacity="0.95" transform="rotate(-12 695.0 1730.0)" filter="url(#bl3)"/>
<ellipse cx="728.0" cy="1733.0" rx="5.5" ry="13.0" fill="#4941e7" fill-opacity="0.95" transform="rotate(-12 728.0 1733.0)" filter="url(#bl3)"/>
<ellipse cx="759.0" cy="1738.0" rx="5.5" ry="13.0" fill="#4941e7" fill-opacity="0.95" transform="rotate(-12 759.0 1738.0)" filter="url(#bl3)"/>
<ellipse cx="790.0" cy="1735.0" rx="5.5" ry="13.0" fill="#4941e7" fill-opacity="0.95" transform="rotate(-12 790.0 1735.0)" filter="url(#bl3)"/>
<ellipse cx="904.0" cy="1733.0" rx="5.5" ry="13.0" fill="#4941e7" fill-opacity="0.95" transform="rotate(-12 904.0 1733.0)" filter="url(#bl3)"/>
<ellipse cx="966.0" cy="1733.0" rx="5.5" ry="13.0" fill="#4941e7" fill-opacity="0.95" transform="rotate(-12 966.0 1733.0)" filter="url(#bl3)"/>
<ellipse cx="998.0" cy="1733.0" rx="5.5" ry="13.0" fill="#4941e7" fill-opacity="0.95" transform="rotate(-12 998.0 1733.0)" filter="url(#bl3)"/>
<ellipse cx="1064.0" cy="1733.0" rx="5.5" ry="13.0" fill="#4941e7" fill-opacity="0.95" transform="rotate(-12 1064.0 1733.0)" filter="url(#bl3)"/>
<ellipse cx="980.0" cy="1795.0" rx="5.5" ry="13.0" fill="#4941e7" fill-opacity="0.95" transform="rotate(-12 980.0 1795.0)" filter="url(#bl3)"/>
<path d="M447.0 1537.0 L455.0 1540.0 L462.0 1560.0 L470.0 1585.0 L485.0 1600.0 L497.0 1625.0 L503.0 1660.0 L500.0 1690.0 L490.0 1712.0 L470.0 1722.0 L450.0 1718.0 L436.0 1700.0 L430.0 1670.0 L432.0 1630.0 L434.0 1600.0 L438.0 1570.0 L440.0 1545.0Z" fill="#007ef6" filter="url(#bl3)"/>
<path d="M455.0 1585.0 L475.0 1600.0 L490.0 1625.0 L495.0 1660.0 L488.0 1690.0 L470.0 1708.0 L450.0 1712.0 L438.0 1690.0 L436.0 1650.0 L440.0 1610.0Z" fill="#00b4c6" filter="url(#bl4)"/>
<path d="M452.0 1600.0 L470.0 1606.0 L485.0 1625.0 L490.0 1660.0 L480.0 1688.0 L462.0 1702.0 L447.0 1706.0 L441.0 1680.0 L441.0 1630.0Z" fill="#00c872" filter="url(#bl4)"/>
<path d="M452.0 1614.0 L462.0 1612.0 L476.0 1622.0 L485.0 1640.0 L484.0 1668.0 L470.0 1682.0 L462.0 1694.0 L452.0 1710.0 L445.0 1702.0 L450.0 1690.0 L448.0 1660.0 L448.0 1630.0Z" fill="#ffb432" filter="url(#bl2)"/>
<path d="M453.0 1620.0 L463.0 1620.0 L468.0 1640.0 L465.0 1670.0 L458.0 1685.0 L452.0 1680.0 L450.0 1650.0Z" fill="#fdea06" filter="url(#bl3)"/>
<path d="M233.0 1830.0 L262.0 1830.0 L256.0 1745.0 L236.0 1745.0Z" fill="#00b9be" fill-opacity="0.8" filter="url(#bl6)"/>
<path d="M231.0 1905.0 L233.0 1850.0 L239.0 1827.0 L250.0 1818.0 L261.0 1825.0 L272.0 1848.0 L284.0 1880.0 L286.0 1905.0Z" fill="#00b4c6" filter="url(#bl4)"/>
<path d="M236.0 1905.0 L238.0 1858.0 L250.0 1838.0 L262.0 1848.0 L275.0 1905.0Z" fill="#00c872" filter="url(#bl3)"/>
<path d="M244.0 1905.0 L245.0 1868.0 L250.0 1856.0 L258.0 1857.0 L266.0 1872.0 L270.0 1905.0Z" fill="#ffb432" filter="url(#bl2)"/>
<path d="M248.0 1905.0 L249.0 1872.0 L254.0 1864.0 L260.0 1875.0 L263.0 1905.0Z" fill="#ffd315" filter="url(#bl3)"/>
</g>
<rect x="151.4" y="1056.0" width="928.6" height="1.5" fill="#8a8a8a" fill-opacity="0.6"/>
<rect x="148.2" y="1056.7" width="108" height="99.3" fill="#fff"/>
<rect x="148.2" y="1056.1000000000001" width="2.7" height="100" fill="#dedede"/>
<rect x="148.2" y="1056.0" width="108" height="1.3" fill="#9a9a9a"/>
<text x="203.5" y="1125.0" font-size="61" text-anchor="middle" style="fill:#000">(b)</text>
<text x="125.0" y="1233.6" font-size="61" text-anchor="end" >8</text>
<text x="125.0" y="1404.1" font-size="61" text-anchor="end" >6</text>
<text x="125.0" y="1571.3" font-size="61" text-anchor="end" >4</text>
<text x="125.0" y="1733.8" font-size="61" text-anchor="end" >2</text>
<text x="125.0" y="1904.6" font-size="61" text-anchor="end" >0</text>
<text x="163.4" y="1968.6" font-size="61" text-anchor="middle" >0</text>
<text x="348.6" y="1968.6" font-size="61" text-anchor="middle" >400</text>
<text x="533.8" y="1968.6" font-size="61" text-anchor="middle" >800</text>
<text x="719.0" y="1968.6" font-size="61" text-anchor="middle" >1200</text>
<text x="904.2" y="1968.6" font-size="61" text-anchor="middle" >1600</text>
<text x="1089.4" y="1968.6" font-size="61" text-anchor="middle" >2000</text>
<text x="696.0" y="2025.0" font-size="60" text-anchor="middle" >Sample(N)</text>
<text transform="translate(77.2 1493.5) rotate(-90)" font-size="60" text-anchor="middle">Frequency(MHz)</text>
<rect x="1104.5" y="1056" width="52.8" height="840.5" fill="url(#cbB)" stroke="#0c0c08" stroke-opacity="0.72" stroke-width="1.5"/>
<rect x="1148.3" y="1800.8" width="9" height="2.4" fill="#0c0c08" fill-opacity="0.72"/>
<rect x="1148.3" y="1706.8" width="9" height="2.4" fill="#0c0c08" fill-opacity="0.72"/>
<rect x="1148.3" y="1612.8" width="9" height="2.4" fill="#0c0c08" fill-opacity="0.72"/>
<rect x="1148.3" y="1518.8" width="9" height="2.4" fill="#0c0c08" fill-opacity="0.72"/>
<rect x="1148.3" y="1424.8" width="9" height="2.4" fill="#0c0c08" fill-opacity="0.72"/>
<rect x="1148.3" y="1330.8" width="9" height="2.4" fill="#0c0c08" fill-opacity="0.72"/>
<rect x="1148.3" y="1236.8" width="9" height="2.4" fill="#0c0c08" fill-opacity="0.72"/>
<rect x="1148.3" y="1142.8" width="9" height="2.4" fill="#0c0c08" fill-opacity="0.72"/>
<text x="1186.0" y="1167.1" font-size="61" text-anchor="start" >16</text>
<text x="1186.0" y="1262.9" font-size="61" text-anchor="start" >14</text>
<text x="1186.0" y="1351.1" font-size="61" text-anchor="start" >12</text>
<text x="1186.0" y="1448.6" font-size="61" text-anchor="start" >10</text>
<text x="1193.0" y="1544.0" font-size="61" text-anchor="start" >8</text>
<text x="1193.0" y="1634.1" font-size="61" text-anchor="start" >6</text>
<text x="1193.0" y="1727.6" font-size="61" text-anchor="start" >4</text>
<text x="1193.0" y="1831.6" font-size="61" text-anchor="start" >2</text>
<text x="1194.5" y="1920.2" font-size="61" text-anchor="start" >0</text>
<g clip-path="url(#clipC)">
<rect x="134.0" y="2086.3" width="941.0" height="864.2" fill="#4834d8"/>
<rect x="134.0" y="2086.3" width="941.0" height="683.7" filter="url(#nC1)"/>
<rect x="134.0" y="2770" width="941.0" height="180.5" filter="url(#nC2)"/>
<rect x="134.0" y="2478.0" width="941.0" height="124.0" fill="url(#g13)"/>
<rect x="134.0" y="2644.0" width="941.0" height="128.0" fill="url(#g14)"/>
<rect x="134.0" y="2391.0" width="941.0" height="104.0" fill="url(#g15)"/>
<rect x="134.0" y="2583.0" width="941.0" height="72.0" fill="url(#g16)"/>
<ellipse cx="252.0" cy="2447.0" rx="28.0" ry="27.0" fill="#007ef6" filter="url(#bl3)"/>
<ellipse cx="348.0" cy="2440.0" rx="9.0" ry="25.0" fill="#007ef6" filter="url(#bl3)"/>
<ellipse cx="464.0" cy="2445.0" rx="10.0" ry="22.0" fill="#007ef6" filter="url(#bl3)"/>
<ellipse cx="519.0" cy="2450.0" rx="8.0" ry="12.0" fill="#007ef6" filter="url(#bl3)"/>
<ellipse cx="588.0" cy="2443.0" rx="23.0" ry="32.0" fill="#007ef6" filter="url(#bl3)"/>
<ellipse cx="638.0" cy="2443.0" rx="8.0" ry="22.0" fill="#007ef6" filter="url(#bl3)"/>
<ellipse cx="832.0" cy="2445.0" rx="13.0" ry="27.0" fill="#007ef6" filter="url(#bl3)"/>
<ellipse cx="896.0" cy="2452.0" rx="14.0" ry="22.0" fill="#007ef6" filter="url(#bl3)"/>
<ellipse cx="952.0" cy="2442.0" rx="18.0" ry="30.0" fill="#007ef6" filter="url(#bl3)"/>
<ellipse cx="990.0" cy="2442.0" rx="18.0" ry="30.0" fill="#007ef6" filter="url(#bl3)"/>
<ellipse cx="970.0" cy="2458.0" rx="30.0" ry="14.0" fill="#007ef6" filter="url(#bl3)"/>
<ellipse cx="138.0" cy="2420.0" rx="22.0" ry="52.0" fill="#007ef6" filter="url(#bl3)"/>
<ellipse cx="175.0" cy="2455.0" rx="18.0" ry="12.0" fill="#007ef6" filter="url(#bl3)"/>
<ellipse cx="281.0" cy="2617.0" rx="15.0" ry="9.0" fill="#007ef6" filter="url(#bl3)"/>
<ellipse cx="446.0" cy="2617.0" rx="16.0" ry="14.0" fill="#007ef6" filter="url(#bl3)"/>
<ellipse cx="446.0" cy="2640.0" rx="10.0" ry="15.0" fill="#007ef6" filter="url(#bl3)"/>
<ellipse cx="548.0" cy="2617.0" rx="20.0" ry="15.0" fill="#007ef6" filter="url(#bl3)"/>
<ellipse cx="696.0" cy="2612.0" rx="9.0" ry="6.0" fill="#007ef6" filter="url(#bl3)"/>
<ellipse cx="678.0" cy="2630.0" rx="8.0" ry="5.0" fill="#007ef6" filter="url(#bl3)"/>
<ellipse cx="134.0" cy="2420.0" rx="9.0" ry="30.0" fill="#00add1" filter="url(#bl4)"/>
<path d="M759.0 2147.0 L763.0 2170.0 L768.0 2200.0 L778.0 2240.0 L785.0 2290.0 L784.0 2330.0 L778.0 2365.0 L770.0 2385.0 L766.0 2410.0 L765.0 2432.0 L770.0 2450.0 L780.0 2459.0 L772.0 2475.0 L763.0 2494.0 L757.0 2494.0 L752.0 2470.0 L745.0 2455.0 L738.0 2436.0 L740.0 2420.0 L750.0 2410.0 L752.0 2380.0 L748.0 2350.0 L745.0 2300.0 L748.0 2250.0 L753.0 2200.0 L756.0 2170.0Z" fill="#007ef6" filter="url(#bl3)"/>
<ellipse cx="765.0" cy="2295.0" rx="15.0" ry="88.0" fill="#00a8d8" filter="url(#bl4)"/>
<ellipse cx="765.0" cy="2294.0" rx="11.0" ry="70.0" fill="#00c872" filter="url(#bl3)"/>
<ellipse cx="764.5" cy="2294.0" rx="7.5" ry="56.0" fill="#ffb432" filter="url(#bl2)"/>
<ellipse cx="764.5" cy="2298.0" rx="4.0" ry="24.0" fill="#fee608" filter="url(#bl3)"/>
<rect x="134.0" y="2763.0" width="941.0" height="38.0" fill="url(#g17)"/>
<ellipse cx="144.0" cy="2772.0" rx="55.0" ry="9.0" fill="#0089ee" fill-opacity="0.9" filter="url(#bl4)"/>
<ellipse cx="465.0" cy="2782.0" rx="60.0" ry="7.0" fill="#00bdb3" fill-opacity="0.9" filter="url(#bl5)"/>
<rect x="134.0" y="2826.0" width="941.0" height="32.0" fill="url(#g18)"/>
<rect x="134.0" y="2872.0" width="941.0" height="20.0" fill="url(#g19)"/>
<rect x="134.0" y="2803.0" width="941.0" height="18.0" fill="url(#g20)"/>
<path d="M446.0 2659.0 L458.0 2664.0 L468.0 2680.0 L490.0 2695.0 L504.0 2712.0 L506.0 2735.0 L498.0 2752.0 L480.0 2765.0 L470.0 2775.0 L446.0 2775.0 L436.0 2766.0 L420.0 2750.0 L417.0 2725.0 L420.0 2700.0 L428.0 2675.0 L436.0 2662.0Z" fill="#007ef6" filter="url(#bl3)"/>
<ellipse cx="461.0" cy="2719.0" rx="35.0" ry="37.0" fill="#00add1" filter="url(#bl4)"/>
<ellipse cx="461.5" cy="2718.0" rx="27.0" ry="28.0" fill="#00c872" filter="url(#bl3)"/>
<ellipse cx="461.5" cy="2718.0" rx="21.0" ry="19.0" fill="#b1c725" filter="url(#bl3)"/>
<ellipse cx="461.5" cy="2717.5" rx="17.0" ry="13.0" fill="#ffb432" filter="url(#bl2)"/>
</g>
<rect x="134.0" y="2085.6000000000004" width="941.0" height="1.5" fill="#8a8a8a" fill-opacity="0.6"/>
<rect x="134.0" y="2086.3" width="105.5" height="105" fill="#fff"/>
<path d="M133.4 2191.3V2086.3H239.5" fill="none" stroke="#9a9a9a" stroke-width="1.3"/>
<text x="185.5" y="2156.0" font-size="61" text-anchor="middle" style="fill:#000">(c)</text>
<text x="109.5" y="2249.4" font-size="61" text-anchor="end" >8</text>
<text x="109.5" y="2421.4" font-size="61" text-anchor="end" >6</text>
<text x="109.5" y="2590.6" font-size="61" text-anchor="end" >4</text>
<text x="109.5" y="2761.6" font-size="61" text-anchor="end" >2</text>
<text x="109.5" y="2930.6" font-size="61" text-anchor="end" >0</text>
<text x="147.0" y="3027.6" font-size="61" text-anchor="middle" >0</text>
<text x="334.6" y="3027.6" font-size="61" text-anchor="middle" >400</text>
<text x="522.2" y="3027.6" font-size="61" text-anchor="middle" >800</text>
<text x="709.8" y="3027.6" font-size="61" text-anchor="middle" >1200</text>
<text x="897.4" y="3027.6" font-size="61" text-anchor="middle" >1600</text>
<text x="1085.0" y="3027.6" font-size="61" text-anchor="middle" >2000</text>
<text x="686.5" y="3085.5" font-size="60" text-anchor="middle" >Sample(N)</text>
<text transform="translate(60.2 2512.0) rotate(-90)" font-size="60" text-anchor="middle">Frequency(MHz)</text>
<rect x="1104" y="2085.5" width="61.0" height="864.7" fill="url(#cbC)" stroke="#0c0c08" stroke-opacity="0.72" stroke-width="1.5"/>
<rect x="1156.0" y="2793.1" width="9" height="2.4" fill="#0c0c08" fill-opacity="0.72"/>
<rect x="1156.0" y="2638.2" width="9" height="2.4" fill="#0c0c08" fill-opacity="0.72"/>
<rect x="1156.0" y="2483.2" width="9" height="2.4" fill="#0c0c08" fill-opacity="0.72"/>
<rect x="1156.0" y="2328.2" width="9" height="2.4" fill="#0c0c08" fill-opacity="0.72"/>
<rect x="1156.0" y="2173.3" width="9" height="2.4" fill="#0c0c08" fill-opacity="0.72"/>
<text x="1206.0" y="2192.4" font-size="61" text-anchor="start" >0.5</text>
<text x="1206.0" y="2351.6" font-size="61" text-anchor="start" >0.4</text>
<text x="1206.0" y="2509.6" font-size="61" text-anchor="start" >0.3</text>
<text x="1206.0" y="2665.0" font-size="61" text-anchor="start" >0.2</text>
<text x="1206.0" y="2804.1" font-size="61" text-anchor="start" >0.1</text>
<text x="1209.0" y="2943.2" font-size="61" text-anchor="start" >0</text>
</svg>
</body>
</html>
